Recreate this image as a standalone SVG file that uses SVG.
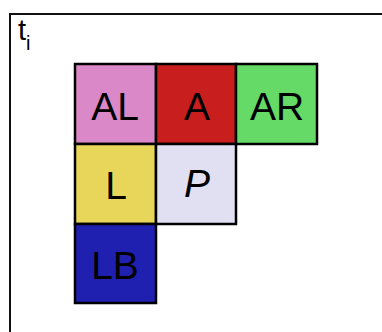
<svg xmlns="http://www.w3.org/2000/svg" width="382" height="332" viewBox="0 0 382 332">
  <style>
    .cell { stroke: #000; stroke-width: 2.5; }
    .lbl { font-family: "Liberation Sans", Arial, sans-serif; font-size: 39px; fill: #000; text-anchor: middle; }
    .frame { fill: none; stroke: #111; stroke-width: 2; }
  </style>
  <rect width="382" height="332" fill="#fff"/>
  <path class="frame" d="M10,340 V14 H390"/>
  <text x="18" y="40" font-family="Liberation Sans, Arial, sans-serif" font-size="29" fill="#000">t<tspan font-size="20" dy="10">i</tspan></text>
  <g id="AL"><rect class="cell" x="75" y="64" width="81" height="80" fill="#DA88C8"/><text class="lbl" x="115" y="120">AL</text></g>
  <g id="A"><rect class="cell" x="156" y="64" width="80" height="80" fill="#C81E1E"/><text class="lbl" x="197" y="120">A</text></g>
  <g id="AR"><rect class="cell" x="236" y="64" width="81" height="80" fill="#66DA66"/><text class="lbl" x="277" y="120">AR</text></g>
  <g id="L"><rect class="cell" x="75" y="144" width="81" height="80" fill="#E8D65A"/><text class="lbl" x="116" y="199">L</text></g>
  <g id="P"><rect class="cell" x="156" y="144" width="80" height="80" fill="#E0E0F2"/><text class="lbl" x="197" y="197" font-style="italic">P</text></g>
  <g id="LB"><rect class="cell" x="75" y="224" width="81" height="79" fill="#2020B0"/><text class="lbl" x="115" y="279">LB</text></g>
  <g id="connectors"></g>
</svg>
